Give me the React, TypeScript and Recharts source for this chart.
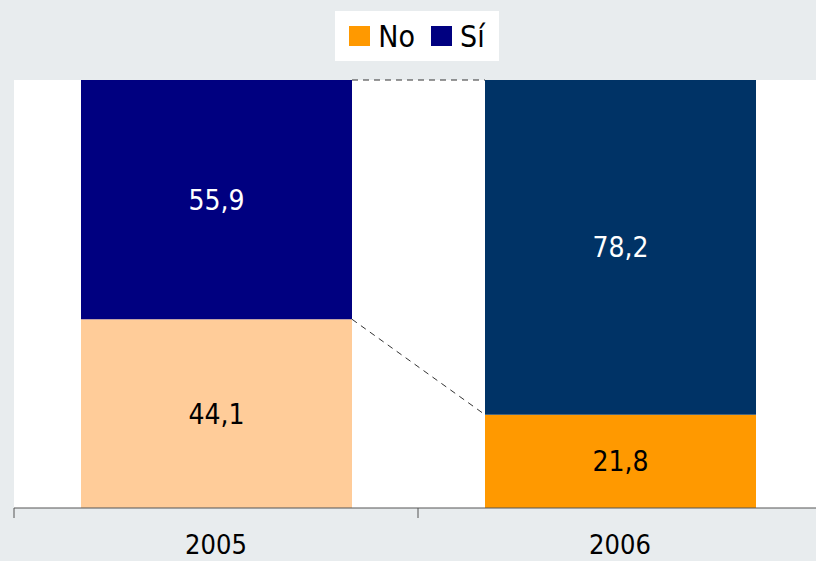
import React from 'react';
import { BarChart, Bar, XAxis, YAxis, CartesianGrid, Legend, LabelList } from 'recharts';

const years = ['2005', '2006'];
const noValues = [44.1, 21.8];
const siValues = [55.9, 78.2];
const noColors = ['#ffcc99', '#ff9900'];
const siColors = ['#000080', '#003366'];

const data = years.map((year, i) => ({ year, No: noValues[i], Si: siValues[i] }));

const W = 816;
const H = 561;
const M = { top: 30, right: -6, bottom: 0, left: 14 };
const X_AXIS_H = 53;
const FONT = '"DejaVu Sans Condensed", "DejaVu Sans", sans-serif';
const band = (W - M.left - M.right) / years.length;
const axisY = H - M.bottom - X_AXIS_H;

// top corners of each drawn segment, filled while the bars render
const tops: Record<string, { x: number; y: number; w: number }[]> = { No: [], Si: [] };

function makeShape(key: 'No' | 'Si', colors: string[]) {
  return (props: any) => {
    const { x, y, width, height, payload } = props;
    const i = years.indexOf(payload.year);
    tops[key][i] = { x, y, w: width };
    const prev = i > 0 ? tops[key][i - 1] : null;
    return (
      <g>
        <rect x={x} y={y} width={width} height={height} fill={colors[i]} />
        {prev && (
          <line
            x1={prev.x + prev.w}
            y1={prev.y}
            x2={x}
            y2={y}
            stroke="#333"
            strokeWidth={1}
            strokeDasharray="6 5"
          />
        )}
      </g>
    );
  };
}

const fmt = (v: any) => Number(v).toFixed(1).replace('.', ',');

function YearTick({ x, payload }: any) {
  return (
    <g>
      <line x1={x - band / 2} y1={axisY} x2={x - band / 2} y2={axisY + 10} stroke="#555" />
      <text x={x} y={axisY + 46} textAnchor="middle" fontSize={27} fill="#000">
        {payload.value}
      </text>
    </g>
  );
}

function LegendBox() {
  const items = [
    { label: 'No', color: noColors[1] },
    { label: 'Sí', color: siColors[0] },
  ];
  return (
    <div
      style={{
        background: '#fff',
        width: 164,
        height: 50,
        display: 'flex',
        alignItems: 'center',
        justifyContent: 'center',
        fontFamily: FONT,
        fontSize: 30,
        color: '#000',
        boxSizing: 'border-box',
      }}
    >
      {items.map((it) => (
        <span key={it.label} style={{ display: 'flex', alignItems: 'center', margin: '0 8px' }}>
          <span style={{ width: 21, height: 20, background: it.color, marginRight: 8 }} />
          {it.label}
        </span>
      ))}
    </div>
  );
}

export default function App() {
  tops.No = [];
  tops.Si = [];
  return (
    <div style={{ position: 'absolute', left: 0, top: 0, width: W, height: H, background: '#e8ecee', overflow: 'hidden' }}>
      <BarChart width={W} height={H} data={data} margin={M} barSize={271} style={{ fontFamily: FONT }}>
        <CartesianGrid fill="#fff" stroke="none" horizontal={false} vertical={false} />
        <XAxis dataKey="year" tickLine={false} stroke="#555" tick={<YearTick />} height={X_AXIS_H} />
        <YAxis hide domain={[0, 100]} />
        <Legend
          verticalAlign="top"
          content={() => <LegendBox />}
          wrapperStyle={{ top: 11, left: 335, width: 164, height: 50 }}
        />
        <Bar dataKey="No" stackId="a" fill={noColors[1]} shape={makeShape('No', noColors)} isAnimationActive={false}>
          <LabelList dataKey="No" position="center" fill="#000" fontSize={28} formatter={fmt} />
        </Bar>
        <Bar dataKey="Si" name="Sí" stackId="a" fill={siColors[0]} shape={makeShape('Si', siColors)} isAnimationActive={false}>
          <LabelList dataKey="Si" position="center" fill="#fff" fontSize={28} formatter={fmt} />
        </Bar>
      </BarChart>
    </div>
  );
}
